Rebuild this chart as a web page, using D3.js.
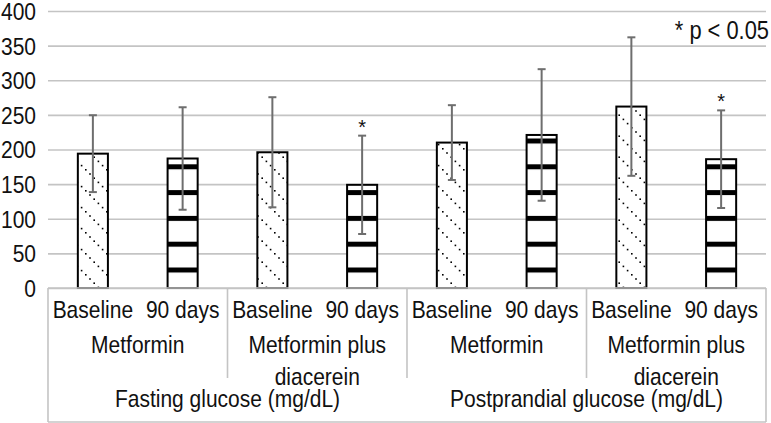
<!DOCTYPE html>
<html>
<head>
<meta charset="utf-8">
<script src="https://cdn.jsdelivr.net/npm/d3@7"></script>
<style>
  html, body { margin: 0; padding: 0; background: #fff; }
  svg { display: block; }
  text { font-family: "Liberation Sans", Arial, sans-serif; fill: #111; }
</style>
</head>
<body>
<svg id="chart" width="771" height="423"></svg>
<script>
// ---- data ----
const outcomes = ["Fasting glucose (mg/dL)", "Postprandial glucose (mg/dL)"];
const treatments = [["Metformin"], ["Metformin plus", "diacerein"]];
const timepoints = ["Baseline", "90 days"];
const means = [194, 187, 196, 149, 210, 221, 262, 186];
const errors = [55.5, 74, 79.5, 71, 54, 95, 100, 70.5];
const significant = [false, false, false, true, false, false, false, true];
const yTicks = [0, 50, 100, 150, 200, 250, 300, 350, 400];
const noteText = "* p < 0.05";

(function () {
const rows = [];
outcomes.forEach((o, oi) => treatments.forEach((t, ti) => timepoints.forEach((tp, pi) => {
  const i = rows.length;
  rows.push({ i, outcome: o, oi, treatment: t, ti, time: tp, pi, mean: means[i], err: errors[i], sig: significant[i] });
})));

const svg = d3.select("#chart");
const mLeft = 48, mRight = 766, mTop = 11, mBottom = 288, axisBottom = 422;
const fontSize = 24, sx = 0.875;

const x = d3.scaleBand().domain(rows.map(d => d.i)).range([mLeft, mRight]).paddingInner(0).paddingOuter(0);
const y = d3.scaleLinear().domain([0, 400]).range([mBottom, mTop]);
const barW = x.bandwidth() * 0.335;

// condensed text helper
function label(g, tx, ty, str, anchor, size) {
  return g.append("text")
    .attr("transform", `translate(${tx},${ty}) scale(${sx},1)`)
    .attr("dy", "0.35em")
    .attr("text-anchor", anchor || "middle")
    .attr("font-size", size || fontSize)
    .text(str);
}

// patterns
const defs = svg.append("defs");
const dots = defs.append("pattern").attr("id", "dots").attr("patternUnits", "userSpaceOnUse")
  .attr("width", 21).attr("height", 21).attr("x", 0).attr("y", 0);
dots.append("rect").attr("width", 21).attr("height", 21).attr("fill", "#fff");
[0, 1, 2, 3, 4].forEach(k => dots.append("rect").attr("x", k * 4.2 + 1).attr("y", k * 4.2 + 1)
  .attr("width", 1.6).attr("height", 1.6).attr("fill", "#000"));

const period = 25.8;
const bands = defs.append("pattern").attr("id", "bands").attr("patternUnits", "userSpaceOnUse")
  .attr("width", 20).attr("height", period).attr("x", 0).attr("y", 267.5);
bands.append("rect").attr("width", 20).attr("height", period).attr("fill", "#fff");
bands.append("rect").attr("width", 20).attr("height", 5).attr("y", 0).attr("fill", "#000");

// y axis with gridlines
const yAxis = d3.axisLeft(y).tickValues(yTicks).tickSize(-(mRight - mLeft)).tickPadding(12);
const gy = svg.append("g").attr("transform", `translate(${mLeft},0)`).call(yAxis);
gy.select(".domain").remove();
gy.selectAll(".tick line").attr("stroke", "#c4c4c4").attr("stroke-width", 1.6);
gy.selectAll(".tick text")
  .attr("font-size", fontSize).attr("fill", "#111")
  .style("font-family", '"Liberation Sans", Arial, sans-serif')
  .attr("x", -12 / sx).attr("dy", "0.35em")
  .attr("transform", `scale(${sx},1)`);

// bars
svg.append("g").selectAll("rect").data(rows).join("rect")
  .attr("x", d => x(d.i) + x.bandwidth() / 2 - barW / 2)
  .attr("y", d => y(d.mean))
  .attr("width", barW)
  .attr("height", d => y(0) - y(d.mean))
  .attr("fill", d => d.pi === 0 ? "url(#dots)" : "url(#bands)")
  .attr("stroke", "#000").attr("stroke-width", 2);

// error bars
const eg = svg.append("g").attr("stroke", "#6e6e6e").attr("stroke-width", 2);
rows.forEach(d => {
  const cx = x(d.i) + x.bandwidth() / 2;
  const y1 = y(d.mean + d.err), y0 = y(d.mean - d.err);
  eg.append("line").attr("x1", cx).attr("x2", cx).attr("y1", y1).attr("y2", y0);
  eg.append("line").attr("x1", cx - 4).attr("x2", cx + 4).attr("y1", y1).attr("y2", y1);
  eg.append("line").attr("x1", cx - 4).attr("x2", cx + 4).attr("y1", y0).attr("y2", y0);
});

// significance asterisks
svg.append("g").selectAll("text").data(rows.filter(d => d.sig)).join("text")
  .attr("x", d => x(d.i) + x.bandwidth() / 2)
  .attr("y", d => y(d.mean + d.err) - 2)
  .attr("text-anchor", "middle").attr("font-size", 20).text("*");

// note
const ng = svg.append("g");
label(ng, 769, 30, noteText, "end", 25);

// category axis box
const ag = svg.append("g").attr("stroke", "#c4c4c4").attr("stroke-width", 1.6);
ag.append("line").attr("x1", mLeft).attr("x2", mRight).attr("y1", mBottom).attr("y2", mBottom);
ag.append("line").attr("x1", mLeft).attr("x2", mLeft).attr("y1", mBottom).attr("y2", axisBottom);
ag.append("line").attr("x1", mRight).attr("x2", mRight).attr("y1", mBottom).attr("y2", axisBottom);
ag.append("line").attr("x1", mLeft).attr("x2", mRight).attr("y1", axisBottom).attr("y2", axisBottom);
[2, 4, 6].forEach(k => {
  const xx = x(k);
  ag.append("line").attr("x1", xx).attr("x2", xx).attr("y1", mBottom).attr("y2", 378);
});

const lg = svg.append("g");
// level 1 labels
rows.forEach(d => label(lg, x(d.i) + x.bandwidth() / 2, 310, d.time));

// level 2 labels
rows.filter(d => d.pi === 0).forEach(d => {
  const cx = x(d.i) + x.bandwidth();
  d.treatment.forEach((line, li) => label(lg, cx, 345 + li * 32, line));
});

// level 3 labels
outcomes.forEach((o, oi) => label(lg, x(oi * 4) + 2 * x.bandwidth(), 399, o));
})();
</script>
</body>
</html>
